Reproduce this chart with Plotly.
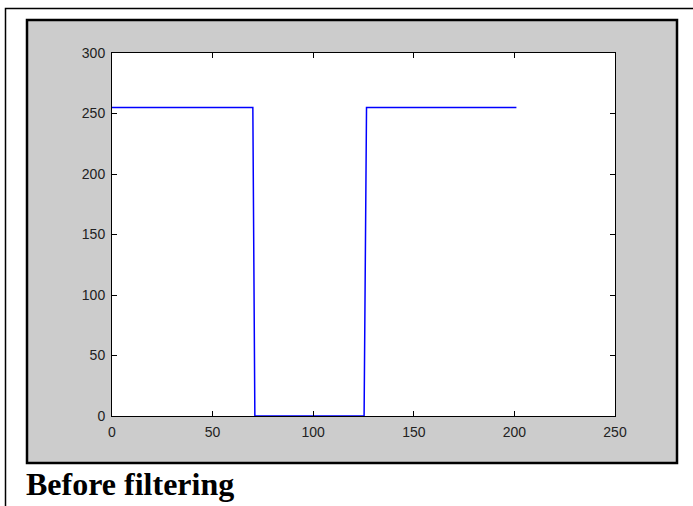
import plotly.graph_objects as go

# Step signal breakpoints (sample index, intensity)
sample_x = [0, 70, 70.5, 71, 125.3, 125.6, 126.0, 126.5, 201]
intensity = [255, 255, 127, 0, 0, 64, 191, 255, 255]

x_ticks = [0, 50, 100, 150, 200, 250]
y_ticks = [0, 50, 100, 150, 200, 250, 300]
caption = "Before filtering"

W, H = 693, 506
L, R, T, B = 112, 615, 53, 416  # plot area in pixels


def px(xp):
    return (xp - L) / (R - L)


def py(yp):
    return (B - yp) / (B - T)


fig = go.Figure()
fig.add_trace(go.Scatter(x=sample_x, y=intensity, mode="lines",
                         line=dict(color="#0000FF", width=1.5),
                         hoverinfo="skip", showlegend=False, cliponaxis=False))

axis_common = dict(showgrid=False, zeroline=False, showline=True, linecolor="black",
                   linewidth=1, mirror="ticks", ticks="inside", ticklen=5,
                   tickcolor="black", tickwidth=1, ticklabelstandoff=3,
                   tickfont=dict(family="Liberation Sans, Arial", size=14, color="#222222"))

fig.update_xaxes(range=[0, 250], tickvals=x_ticks, ticktext=[str(v) for v in x_ticks],
                 **axis_common)
fig.update_yaxes(range=[0, 300], tickvals=y_ticks, ticktext=[str(v) for v in y_ticks],
                 **axis_common)

shapes = [
    # outer thin frame
    dict(type="rect", xref="paper", yref="paper", x0=px(5.5), x1=px(720), y0=py(8.5), y1=py(540),
         line=dict(color="black", width=1.5), fillcolor="white", layer="below"),
    # gray figure panel
    dict(type="rect", xref="paper", yref="paper", x0=px(27), x1=px(677), y0=py(20), y1=py(463),
         line=dict(color="black", width=2.5), fillcolor="#CCCCCC", layer="below"),
    # white axes area
    dict(type="rect", xref="paper", yref="paper", x0=0, x1=1, y0=0, y1=1,
         line=dict(width=0), fillcolor="white", layer="below"),
]

fig.update_layout(
    width=W, height=H,
    margin=dict(l=L, r=W - R, t=T, b=H - B, pad=0),
    paper_bgcolor="white", plot_bgcolor="white",
    shapes=shapes,
    annotations=[dict(text="<b>" + caption + "</b>", xref="paper", yref="paper",
                      x=px(24), y=py(464), xanchor="left", yanchor="top", showarrow=False,
                      font=dict(family="Liberation Serif, Times New Roman", size=32, color="black"))],
)

fig.write_html("out.html")
